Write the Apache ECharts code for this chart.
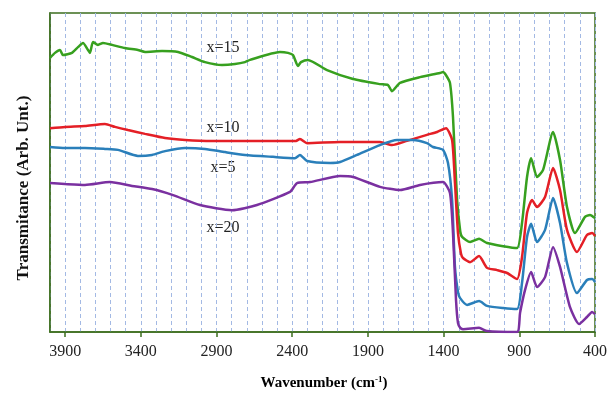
<!DOCTYPE html>
<html>
<head>
<meta charset="utf-8">
<script src="https://cdn.jsdelivr.net/npm/echarts@6/dist/echarts.min.js"></script>
<style>html,body{margin:0;padding:0;background:#fff}#c{width:613px;height:393px}</style>
</head>
<body>
<div id="c"></div>
<script>
// Wavenumber axis (cm-1), reversed
const xMin = 400, xMax = 4000, labelStep = 500, gridStep = 100;
const seriesNames = ['x=15', 'x=10', 'x=5', 'x=20'];
// [wavenumber, transmittance (arb. units)]
const x15 = [[4000,85.9],[3967,87.5],[3934,88.4],[3914,86.8],[3855,87.5],[3815,89.3],[3782,90.6],[3749,88.4],[3736,87.5],[3716,90.9],[3683,90.0],[3650,90.6],[3590,90.0],[3505,89.0],[3419,88.4],[3372,87.8],[3260,88.1],[3154,87.8],[3062,86.2],[2976,84.6],[2864,83.7],[2778,84.0],[2712,84.6],[2679,85.3],[2481,87.8],[2428,87.5],[2395,86.8],[2362,83.4],[2342,84.6],[2296,85.3],[2170,82.1],[1998,79.3],[1820,77.7],[1767,77.4],[1741,75.5],[1688,78.1],[1556,79.9],[1424,81.2],[1404,81.5],[1384,80.5],[1358,78.1],[1338,67.4],[1311,41.4],[1290,31.5],[1278,29.8],[1225,28.2],[1166,29.2],[1113,27.9],[1007,26.9],[915,26.3],[882,34.2],[849,48.6],[822,54.5],[783,48.6],[743,50.8],[677,62.7],[631,53.9],[585,39.2],[532,31.0],[466,36.1],[433,36.7],[400,35.7]];
const x10 = [[4000,63.9],[3901,64.3],[3769,64.6],[3637,65.2],[3571,64.3],[3485,63.3],[3372,62.1],[3240,60.8],[3108,60.2],[2930,59.9],[2712,59.9],[2375,59.9],[2349,60.5],[2302,59.2],[2084,59.6],[1820,59.6],[1741,58.6],[1642,59.9],[1510,61.8],[1443,62.7],[1384,63.9],[1344,60.2],[1325,46.7],[1305,31.0],[1285,24.5],[1272,23.2],[1225,21.9],[1166,23.8],[1113,20.1],[1047,19.4],[981,18.5],[915,16.6],[882,23.5],[849,37.3],[816,41.4],[783,39.2],[730,42.3],[677,51.4],[631,44.5],[585,32.0],[519,25.1],[453,30.4],[419,31.0],[400,30.1]];
const x5 = [[4000,58.0],[3901,57.7],[3769,57.7],[3637,57.4],[3551,57.1],[3419,55.2],[3326,55.5],[3240,56.7],[3108,57.7],[2976,57.4],[2844,56.4],[2712,55.5],[2527,54.9],[2382,54.5],[2349,55.5],[2302,53.6],[2150,53.0],[2084,53.3],[1972,55.5],[1820,58.6],[1708,60.2],[1602,60.2],[1510,59.2],[1470,58.0],[1404,57.1],[1371,53.0],[1344,41.4],[1325,20.4],[1305,12.5],[1292,10.7],[1245,8.5],[1166,9.7],[1113,8.2],[1007,7.5],[915,7.2],[882,15.4],[849,29.8],[822,33.9],[783,28.2],[730,32.0],[677,42.0],[631,34.2],[585,21.6],[519,12.2],[453,16.3],[419,16.6],[400,15.7]];
const x20 = [[4000,46.7],[3901,46.4],[3769,46.1],[3604,47.0],[3458,45.8],[3326,44.8],[3187,42.9],[3009,39.8],[2798,38.2],[2633,39.8],[2415,43.9],[2368,46.7],[2282,47.0],[2084,48.9],[1998,48.6],[1820,45.5],[1688,44.5],[1556,46.1],[1404,47.0],[1358,43.6],[1338,31.0],[1318,10.0],[1305,2.8],[1290,1.3],[1272,0.9],[1166,1.3],[1113,0.3],[915,0.0],[895,6.0],[862,13.2],[822,18.8],[783,14.1],[730,17.2],[677,26.6],[631,20.4],[565,7.8],[505,2.5],[453,4.7],[419,6.3],[400,5.6]];
const seriesData = [x15, x10, x5, x20];
const colors = ['#37a01f', '#e41f26', '#2a7fba', '#7a30a0'];

const FONT = '"Liberation Serif", "Times New Roman", serif';
const green = '#3d6e1e';
const chart = echarts.init(document.getElementById('c'), null, {renderer: 'canvas'});
chart.setOption({
  animation: false,
  backgroundColor: '#ffffff',
  grid: {left: 50, right: 18, top: 13, bottom: 61, show: true, borderColor: green, borderWidth: 1.5},
  xAxis: [{
    type: 'value', min: xMin, max: xMax, interval: labelStep, inverse: true,
    axisLine: {show: true, lineStyle: {color: green, width: 1.5}},
    axisTick: {show: true, length: 5, lineStyle: {color: green, width: 1.5}},
    axisLabel: {show: true, showMaxLabel: false, color: '#222', fontFamily: FONT, fontSize: 16, margin: 12,
      formatter: v => String(v)},
    splitLine: {show: false}
  }, {
    type: 'value', min: xMin, max: xMax, interval: gridStep, inverse: true, position: 'bottom',
    axisLine: {show: false}, axisTick: {show: false}, axisLabel: {show: false},
    splitLine: {show: true, lineStyle: {color: '#a3b9e4', width: 1, type: [4, 3]}}
  }],
  yAxis: {
    type: 'value', min: 0, max: 100,
    axisLine: {show: true, lineStyle: {color: green, width: 1.5}},
    axisTick: {show: false}, axisLabel: {show: false}, splitLine: {show: false}
  },
  series: seriesData.map((d, i) => ({
    name: seriesNames[i], type: 'line', data: d, xAxisIndex: 0,
    showSymbol: false, smooth: 0.2, z: 3,
    lineStyle: {color: colors[i], width: 2.5}
  })),
  graphic: [
    {type: 'text', x: 223, y: 48, style: {text: seriesNames[0], font: '16px ' + FONT, fill: '#222', textAlign: 'center', textVerticalAlign: 'middle'}},
    {type: 'text', x: 223, y: 128, style: {text: seriesNames[1], font: '16px ' + FONT, fill: '#222', textAlign: 'center', textVerticalAlign: 'middle'}},
    {type: 'text', x: 223, y: 168, style: {text: seriesNames[2], font: '16px ' + FONT, fill: '#222', textAlign: 'center', textVerticalAlign: 'middle'}},
    {type: 'text', x: 223, y: 228, style: {text: seriesNames[3], font: '16px ' + FONT, fill: '#222', textAlign: 'center', textVerticalAlign: 'middle'}},
    {type: 'text', x: 24, y: 188, rotation: Math.PI / 2,
      style: {text: 'Transmitance (Arb. Unt.)', font: 'bold 17px ' + FONT, fill: '#111', textAlign: 'center', textVerticalAlign: 'middle'}},
    {type: 'text', x: 324, y: 383,
      style: {text: '{a|Wavenumber (cm}{s|-1}{a|)}', textAlign: 'center', textVerticalAlign: 'middle',
        rich: {
          a: {fontFamily: FONT, fontWeight: 'bold', fontSize: 15, color: '#111'},
          s: {fontFamily: FONT, fontWeight: 'bold', fontSize: 9, color: '#111', verticalAlign: 'top', padding: [0, 0, 7, 0]}
        }}}
  ]
});
</script>
</body>
</html>
